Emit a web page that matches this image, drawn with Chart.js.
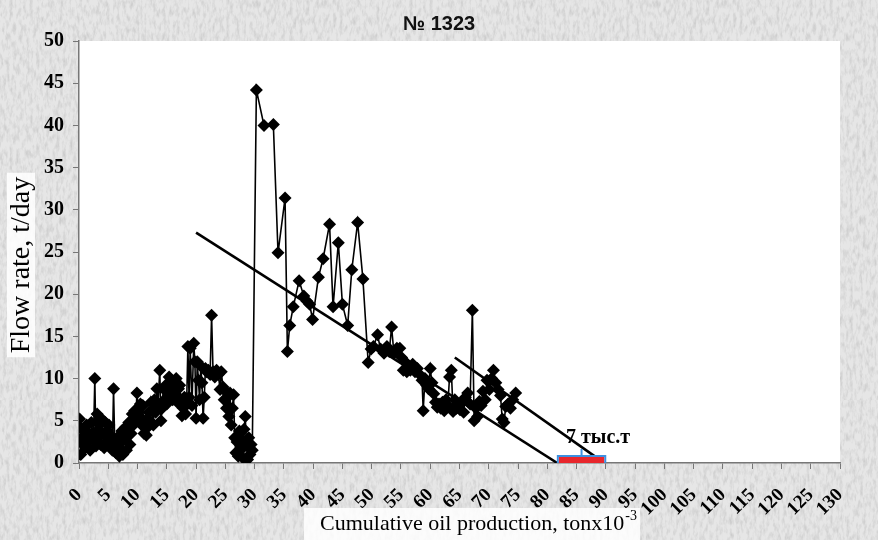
<!DOCTYPE html>
<html>
<head>
<meta charset="utf-8">
<script src="https://cdn.jsdelivr.net/npm/chart.js@4.4.1/dist/chart.umd.min.js"></script>
<style>
	html, body { margin: 0; padding: 0; }
	body {
		width: 878px;
		height: 540px;
		overflow: hidden;
		background: #e0e0e0 url("data:image/svg+xml,%3Csvg xmlns='http://www.w3.org/2000/svg' width='400' height='400'%3E%3Cfilter id='n'%3E%3CfeTurbulence type='fractalNoise' baseFrequency='0.3 0.12' numOctaves='3' seed='4'/%3E%3CfeColorMatrix values='0 0 0 0 0.55 0 0 0 0 0.55 0 0 0 0 0.55 1.6 0 0 0 -0.66'/%3E%3C/filter%3E%3Crect width='400' height='400' fill='%23e6e6e6'/%3E%3Crect width='400' height='400' filter='url(%23n)'/%3E%3C/svg%3E");
	}
	#grafico { display: block; }
</style>
</head>
<body>
<canvas id="grafico" width="878" height="540"></canvas>
<script>
// DADOS - poço № 1323

const titulo = '№ 1323';
const tituloY = 'Flow rate, t/day';
const tituloX = 'Cumulative oil production, tonx10';
const tituloXExp = '-3';

// produção acumulada (mil t)
const producaoAcumulada = [
	0.1, 0.2, 0.3, 0.5, 0.7, 0.9, 1.1, 1.3, 1.5, 1.7, 1.9, 2.1, 2.3, 2.5, 2.7, 2.9,
	3.1, 3.3, 3.5, 3.7, 3.9, 4.1, 4.3, 4.5, 4.7, 4.9, 5.1, 5.3, 5.5, 5.7, 5.9, 6.1,
	6.3, 6.5, 6.7, 6.9, 7.1, 7.3, 7.5, 7.7, 7.9, 8.1, 8.3, 8.5, 8.7, 8.9, 9.1, 9.3,
	9.5, 9.7, 9.9, 10.1, 10.3, 10.5, 10.7, 10.9, 11.1, 11.3, 11.5, 11.7, 11.9, 12.1,
	12.3, 12.5, 12.7, 12.9, 13.1, 13.3, 13.5, 13.8, 14.0, 14.2, 14.4, 14.6, 14.8, 15.0,
	15.2, 15.4, 15.6, 15.8, 16.0, 16.2, 16.4, 16.6, 16.8, 17.0, 17.2, 17.4, 17.6, 17.8,
	18.0, 18.2, 18.4, 18.6, 18.8, 19.0, 19.3, 19.6, 19.8, 20.0, 20.2, 20.4, 20.6, 20.8,
	21.0, 21.2, 21.4, 21.6, 21.8, 22.1, 22.4, 22.65, 22.9, 23.2, 23.5, 23.8, 24.1, 24.3,
	24.6, 24.8, 25.0, 25.2, 25.4, 25.6, 25.8, 26.0, 26.2, 26.4, 26.6, 26.8, 27.0, 27.2,
	27.4, 27.6, 27.8, 28.0, 28.2, 28.4, 28.6, 28.8, 29.0, 29.2, 29.4, 29.6, 30.3, 31.6,
	33.2, 34.0, 35.2, 35.6, 36.0, 36.6, 37.6, 38.4, 38.9, 39.4, 39.9, 40.9, 41.7, 42.8,
	43.4, 44.3, 45.0, 45.9, 46.6, 47.6, 48.5, 49.4, 49.9, 50.3, 51.0, 51.5, 52.1, 52.6,
	53.0, 53.4, 53.8, 54.3, 54.8, 55.1, 55.4, 55.7, 56.0, 56.3, 56.6, 57.0, 57.4, 57.8,
	58.2, 58.6, 58.8, 59.1, 59.4, 59.7, 60.0, 60.3, 60.6, 60.9, 61.2, 61.5, 61.8, 62.1,
	62.4, 62.7, 63.0, 63.3, 63.6, 63.9, 64.2, 64.5, 64.8, 65.1, 65.4, 65.7, 66.0, 66.4,
	66.8, 67.2, 67.5, 67.8, 68.1, 68.4, 68.7, 69.0, 69.4, 69.7, 70.1, 70.5, 70.8, 71.2,
	71.6, 72.0, 72.3, 72.6, 72.9, 73.3, 73.7, 74.1, 74.6,
];

// vazão (t/dia)
const vazao = [
	5.2, 4.2, 1.0, 3.0, 2.2, 3.8, 1.8, 4.5, 2.5, 3.5, 1.5, 4.8, 2.8, 3.6, 10.0, 2.0,
	5.8, 3.0, 4.5, 2.2, 5.2, 3.5, 1.8, 4.8, 2.5, 3.8, 4.5, 2.0, 3.2, 1.5, 8.8, 2.5,
	1.2, 3.0, 1.8, 0.8, 2.5, 3.8, 1.0, 2.8, 4.2, 1.5, 3.2, 4.8, 2.2, 3.5, 5.8, 4.5,
	6.2, 5.2, 8.3, 6.5, 5.5, 7.0, 4.5, 6.8, 3.5, 5.0, 3.3, 4.2, 6.0, 5.0,
	7.2, 6.2, 4.5, 7.5, 6.0, 8.8, 7.0, 11.0, 5.0, 6.5, 8.8, 7.5, 9.2, 7.0,
	8.5, 10.2, 8.0, 9.8, 7.5, 9.5, 8.2, 10.0, 7.2, 8.8, 9.2, 7.5, 5.6, 6.5,
	7.8, 5.8, 7.5, 13.8, 7.8, 13.6, 6.8, 14.2, 12.0, 5.3, 12.0, 9.8, 7.5, 11.5,
	9.5, 5.3, 7.8, 11.2, 10.8, 11.0, 10.5, 17.5, 10.8, 10.2, 11.0, 10.5, 8.7, 10.8,
	9.0, 7.5, 8.5, 6.5, 7.8, 5.5, 8.3, 4.5, 6.5, 8.1, 3.0, 1.2, 2.5, 0.8,
	3.8, 1.5, 2.8, 0.6, 4.0, 5.5, 2.2, 0.4, 3.0, 1.0, 2.2, 1.5, 44.2, 40.0,
	40.1, 24.9, 31.4, 13.2, 16.3, 18.5, 21.6, 19.8, 19.2, 18.8, 17.0, 22.0, 24.2, 28.3,
	18.5, 26.1, 18.8, 16.3, 22.9, 28.5, 21.8, 11.9, 13.5, 13.8, 15.2, 13.5, 13.0, 13.8,
	13.2, 16.1, 13.0, 13.6, 13.6, 12.5, 11.0, 12.0, 10.8, 11.5, 11.0, 11.7, 10.8, 11.2,
	10.5, 9.8, 6.2, 10.0, 9.2, 8.8, 11.2, 9.5, 8.2, 7.2, 6.6, 7.0, 6.5, 7.2,
	6.2, 7.5, 6.8, 10.2, 11.0, 6.1, 7.5, 6.5, 7.0, 6.3, 7.3, 6.0, 7.8, 8.3,
	7.0, 18.1, 5.0, 6.5, 5.5, 7.3, 6.8, 8.5, 7.5, 9.8, 8.7, 10.0, 11.0, 9.5,
	8.7, 8.0, 5.2, 4.8, 6.7, 7.0, 6.5, 7.5, 8.3,
];

// linhas de tendência
const tendencia1X = [20.0, 81.7];
const tendencia1Y = [27.3, 0];
const tendencia2X = [64.2, 88.3];
const tendencia2Y = [12.5, 0.7];

// faixa de reserva residual
const faixaInicio = 81.8;
const faixaFim = 89.9;
const faixaRotulo = '7 тыс.т';

// eixos
const xMin = 0, xMax = 130, xPasso = 5;
const yMin = 0, yMax = 50, yPasso = 5;

const pontos = (xs, ys) => xs.map((x, i) => ({ x: x, y: ys[i] }));

const fonteSerif = '"Liberation Serif", "Times New Roman", serif';

// fundo branco da área do gráfico
const fundoArea = {
	id: 'fundoArea',
	beforeDraw(chart) {
		const { ctx, chartArea: a } = chart;
		ctx.save();
		ctx.fillStyle = '#ffffff';
		ctx.fillRect(a.left, a.top, a.right - a.left, a.bottom - a.top);
		ctx.restore();
	},
};

// títulos, faixa vermelha e rótulo
const textos = {
	id: 'textos',
	afterDraw(chart) {
		const { ctx } = chart;
		const sx = chart.scales.x;
		const sy = chart.scales.y;
		ctx.save();

		// título
		ctx.fillStyle = '#111';
		ctx.font = 'bold 20px "Liberation Sans", Arial, sans-serif';
		ctx.textAlign = 'center';
		ctx.textBaseline = 'middle';
		ctx.fillText(titulo, 439, 24);

		// título eixo Y
		ctx.save();
		ctx.translate(21, 265);
		ctx.rotate(-Math.PI / 2);
		ctx.font = '28px ' + fonteSerif;
		const wy = ctx.measureText(tituloY).width;
		ctx.fillStyle = 'rgba(255,255,255,0.85)';
		ctx.fillRect(-wy / 2 - 4, -14, wy + 8, 28);
		ctx.fillStyle = '#000';
		ctx.fillText(tituloY, 0, 1);
		ctx.restore();

		// título eixo X (com expoente)
		ctx.font = '22px ' + fonteSerif;
		const wx = ctx.measureText(tituloX).width;
		ctx.font = '14px ' + fonteSerif;
		const we = ctx.measureText(tituloXExp).width;
		const x0 = 478 - (wx + we) / 2;
		ctx.fillStyle = 'rgba(255,255,255,0.85)';
		ctx.fillRect(x0 - 16, 508, wx + we + 20, 32);
		ctx.fillStyle = '#000';
		ctx.textAlign = 'left';
		ctx.textBaseline = 'alphabetic';
		ctx.font = '22px ' + fonteSerif;
		ctx.fillText(tituloX, x0, 530);
		ctx.font = '14px ' + fonteSerif;
		ctx.fillText(tituloXExp, x0 + wx + 1, 520);

		// faixa vermelha com chave azul
		const xa = sx.getPixelForValue(faixaInicio);
		const xb = sx.getPixelForValue(faixaFim);
		const y0 = sy.getPixelForValue(0);
		ctx.fillStyle = '#e8262c';
		ctx.fillRect(xa + 1, y0 - 6, xb - xa - 2, 6);
		ctx.strokeStyle = '#3d8fe0';
		ctx.lineWidth = 2;
		ctx.beginPath();
		ctx.moveTo(xa, y0);
		ctx.lineTo(xa, y0 - 7);
		ctx.lineTo(xb, y0 - 7);
		ctx.lineTo(xb, y0);
		ctx.moveTo((xa + xb) / 2, y0 - 7);
		ctx.lineTo((xa + xb) / 2, y0 - 14);
		ctx.stroke();

		// rótulo
		ctx.fillStyle = '#000';
		ctx.font = 'bold 20px ' + fonteSerif;
		ctx.fillText(faixaRotulo, sx.getPixelForValue(83.2), sy.getPixelForValue(2.4));

		ctx.restore();
	},
};

const grafico = document.getElementById('grafico');

new Chart(grafico, {
	type: 'line',
	data: {
		datasets: [
			{
				label: 'Vazão',
				data: pontos(producaoAcumulada, vazao),
				borderColor: '#000',
				borderWidth: 1.6,
				pointStyle: 'rectRot',
				pointRadius: 6.5,
				pointBorderWidth: 0,
				pointBackgroundColor: '#000',
				tension: 0,
			},
			{
				label: 'Tendência 1',
				data: pontos(tendencia1X, tendencia1Y),
				borderColor: '#000',
				borderWidth: 2.6,
				pointRadius: 0,
			},
			{
				label: 'Tendência 2',
				data: pontos(tendencia2X, tendencia2Y),
				borderColor: '#000',
				borderWidth: 2.6,
				pointRadius: 0,
			},
		],
	},
	options: {
		responsive: false,
		animation: false,
		devicePixelRatio: 1,
		layout: {
			padding: { top: 41, right: 38, left: 0, bottom: 0 },
		},
		plugins: {
			legend: { display: false },
			tooltip: { enabled: false },
			title: { display: false },
		},
		scales: {
			x: {
				type: 'linear',
				min: xMin,
				max: xMax,
				afterFit: (s) => { s.height = 77; },
				ticks: {
					stepSize: xPasso,
					autoSkip: false,
					minRotation: 45,
					maxRotation: 45,
					color: '#000',
					padding: 15,
					font: { family: fonteSerif, size: 19, weight: 'bold' },
				},
				grid: {
					drawOnChartArea: false,
					drawTicks: true,
					tickLength: 6,
					color: '#777',
				},
				border: { color: '#777', width: 1.5 },
			},
			y: {
				min: yMin,
				max: yMax,
				afterFit: (s) => { s.width = 79; },
				ticks: {
					stepSize: yPasso,
					color: '#000',
					padding: 9,
					font: { family: fonteSerif, size: 20, weight: 'bold' },
				},
				grid: {
					drawOnChartArea: false,
					drawTicks: true,
					tickLength: 6,
					color: '#777',
				},
				border: { color: '#777', width: 1.5 },
			},
		},
	},
	plugins: [fundoArea, textos],
});
</script>
</body>
</html>
